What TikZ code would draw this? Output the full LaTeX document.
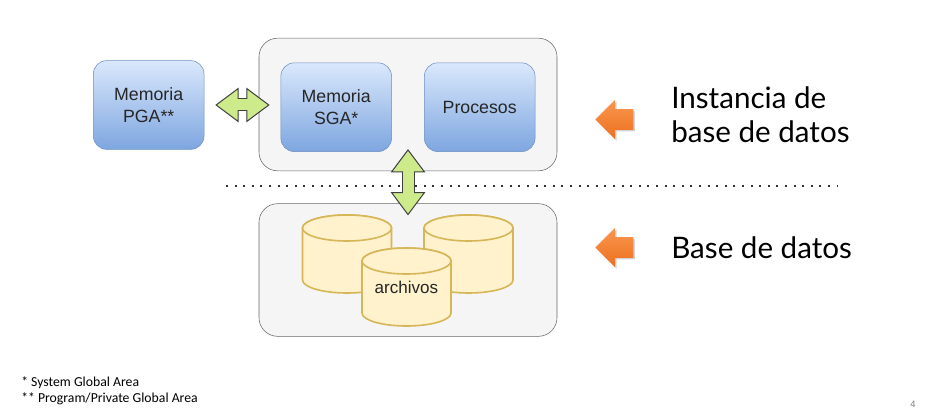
\documentclass[tikz,border=0pt]{standalone}
\usepackage{fontspec}
\setmainfont{Liberation Sans}
\newfontfamily\headfont{Lato}
\newfontfamily\notefont{Carlito}
\usetikzlibrary{arrows.meta,shapes.arrows,shadows}
\definecolor{memtop}{HTML}{DAE8FC}
\definecolor{memblue}{HTML}{7EA6E0}
\definecolor{memline}{HTML}{6C8EBF}
\definecolor{diskline}{HTML}{D6B656}
\definecolor{diskfill}{HTML}{FFF2CC}
\definecolor{linkgreen}{HTML}{CDEB8B}
\definecolor{arrowtop}{HTML}{F9974F}
\definecolor{arrowbot}{HTML}{EC7020}
\tikzset{
  memblock/.style={draw=memline, rounded corners=10pt, top color=memtop, bottom color=memblue, minimum width=83pt, minimum height=66.5pt, align=center, font=\fontsize{13.3pt}{16.5pt}\selectfont, text=black!85},
  groupbox/.style={draw=black!60, fill=black!4, rounded corners=14pt, minimum width=223.5pt, minimum height=99.5pt},
  diskdb/.style={draw=diskline, line width=1.2pt, fill=diskfill},
  fatlink/.style={draw=black!75, line width=.75pt, double=linkgreen, double distance=8.25pt, {Triangle[open,fill=linkgreen,length=17.5pt,width=26pt,line width=.75pt]}-{Triangle[open,fill=linkgreen,length=17.5pt,width=26pt,line width=.75pt]}},
  fatcore/.style={draw=linkgreen, line width=8.25pt},
  backarrow/.style={single arrow, shape border rotate=180, single arrow head extend=7pt, minimum height=28.5pt, minimum width=29.5pt, inner sep=7.5pt, top color=arrowtop, bottom color=arrowbot, drop shadow={shadow xshift=1.2pt, shadow yshift=-1.2pt, opacity=.35}},
  headtext/.style={align=left, anchor=west, inner sep=0pt, font=\headfont\fontsize{22.2pt}{25.5pt}\selectfont}
}
\begin{document}
\begin{tikzpicture}[x=0.75pt,y=-0.75pt]
\useasboundingbox (0,0) rectangle (937,413);
\node[groupbox] (inst) at (408,104.5) {};
\node[groupbox] (db) at (408,270) {};
\node[memblock] (pga) at (148.7,105) {Memoria\\PGA**};
\node[memblock] (sga) at (336.2,107.2) {Memoria\\SGA*};
\node[memblock] (proc) at (479.7,107.2) {Procesos};
% separator
\draw[line width=1.5pt, black!80, dash pattern=on 1.5pt off 4.95pt] (226,186) -- (838,186);
% disks
\foreach \x/\y in {347/254,468.5/254,406.5/287} {
  \draw[diskdb] (\x-44.5,\y-26) -- (\x-44.5,\y+26) arc (180:0:44.5 and 13) -- (\x+44.5,\y-26) arc (0:-180:44.5 and 13) -- cycle;
  \draw[diskdb] (\x,\y-26) ellipse (44.5 and 13);
}
\node[font=\fontsize{12.8pt}{15pt}\selectfont, text=black!85] (disk) at (406.5,287) {archivos};
% links
\draw[fatlink, shorten <=8.25pt, shorten >=8.25pt] (pga.east) -- (pga.east -| sga.west);
\draw[fatcore, shorten <=22pt, shorten >=22pt] (pga.east) -- (pga.east -| sga.west);
\draw[fatlink, shorten <=-16.5pt, shorten >=-9pt] (inst.south) -- (db.north);
\draw[fatcore, shorten <=-2pt, shorten >=6pt] (inst.south) -- (db.north);
% right side
\node[backarrow] (instarrow) at (619.5,119.5) {};
\node[backarrow] (dbarrow) at (619.5,247.5) {};
\node[headtext] (insttext) at (671,115) {Instancia de\\base de datos};
\node[headtext] (dbtext) at (671,248) {Base de datos};
% notes
\node[anchor=north west, inner sep=0pt, align=left, font=\notefont\fontsize{10.3pt}{12pt}\selectfont] (notes) at (21,376) {* System Global Area\\** Program/Private Global Area};
\node[text=black!50, font=\fontsize{7pt}{8pt}\selectfont] (pagenum) at (913,404) {4};
\end{tikzpicture}
\end{document}
